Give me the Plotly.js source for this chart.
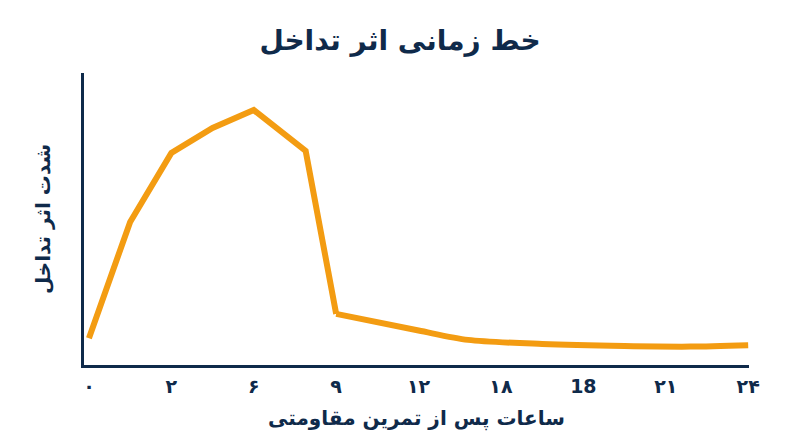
<!DOCTYPE html>
<html>
<head>
<meta charset="utf-8">
<script src="https://cdn.plot.ly/plotly-3.0.1.min.js"></script>
<style>
  html, body { margin: 0; padding: 0; background: #fff; }
  #chart { width: 800px; height: 447px; }
</style>
</head>
<body>
<div id="chart"></div>
<script>
// tick positions and labels (hours after resistance training)
var tickPos = [0, 1, 2, 3, 4, 5, 6, 7, 8];
var tickLabels = ['۰', '۲', '۶', '۹', '۱۲', '۱۸', '18', '۲۱', '۲۴'];

// interference intensity: sharp rise and drop
var riseX = [0, 0.5, 1, 1.5, 2, 2.63, 3];
var riseY = [9.2, 49, 72.6, 81.2, 87.3, 73.3, 17.5];

// slow tail after the drop
var tailX = [3, 4, 4.6, 5.5, 6.5, 7.3, 8];
var tailY = [17.5, 11.8, 8.6, 7.2, 6.5, 6.3, 6.8];

var navy = '#0f2a4a';
var orange = '#f39c12';
var font = 'DejaVu Sans, sans-serif';

var rise = {
  x: riseX,
  y: riseY,
  type: 'scatter',
  mode: 'lines',
  line: { color: orange, width: 6, shape: 'linear' },
  hoverinfo: 'skip'
};

var tail = {
  x: tailX,
  y: tailY,
  type: 'scatter',
  mode: 'lines',
  line: { color: orange, width: 6, shape: 'spline', smoothing: 0.8 },
  hoverinfo: 'skip'
};

var layout = {
  width: 800,
  height: 447,
  margin: { l: 84, r: 51, t: 73, b: 82 },
  paper_bgcolor: '#ffffff',
  plot_bgcolor: '#ffffff',
  showlegend: false,
  title: {
    text: '<b>خط زمانی اثر تداخل</b>',
    x: 0.5,
    xanchor: 'center',
    y: 0.91,
    yanchor: 'middle',
    font: { family: font, size: 28, color: navy }
  },
  xaxis: {
    range: [-0.06, 8.01],
    tickvals: tickPos,
    ticktext: tickLabels,
    showgrid: false,
    zeroline: false,
    showline: true,
    linewidth: 3,
    linecolor: navy,
    ticks: '',
    ticklabelstandoff: 2,
    tickfont: { family: font, size: 19, color: navy, weight: 'bold' },
    title: {
      text: '<b>ساعات پس از تمرین مقاومتی</b>',
      standoff: 16,
      font: { family: font, size: 20, color: navy }
    }
  },
  yaxis: {
    range: [0, 100],
    showgrid: false,
    zeroline: false,
    showline: true,
    linewidth: 3,
    linecolor: navy,
    ticks: '',
    showticklabels: false,
    title: {
      text: '<b>شدت اثر تداخل</b>',
      standoff: 26,
      font: { family: font, size: 20, color: navy }
    }
  }
};

Plotly.newPlot('chart', [rise, tail], layout, { displayModeBar: false, staticPlot: true });
</script>
</body>
</html>
